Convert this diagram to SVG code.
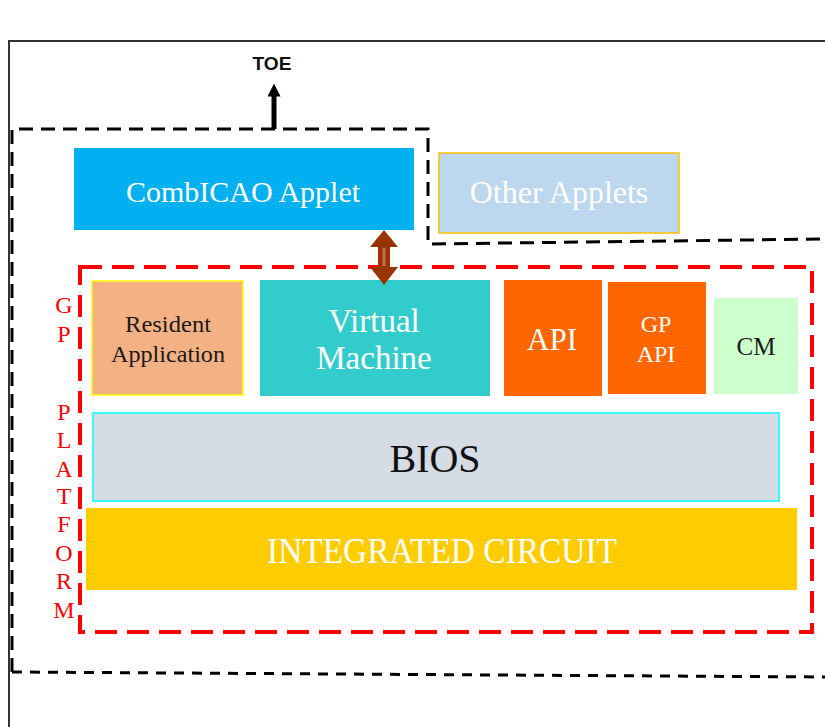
<svg xmlns="http://www.w3.org/2000/svg" width="825" height="727" viewBox="0 0 825 727">
<style>
.serif{font-family:"Liberation Serif","Times New Roman",serif;text-anchor:middle}
.w{fill:#ffffff}
.dk{fill:#1a1a1a}
.red{fill:#ff0000;font-size:24px}
</style>
<defs>
<marker id="ah" viewBox="0 0 10 10" refX="5" refY="5" markerWidth="2.6" markerHeight="2.6" orient="auto-start-reverse" markerUnits="strokeWidth">
<path d="M0,0 L10,5 L0,10 z" fill="#000"/>
</marker>
</defs>
<rect width="825" height="727" fill="#fff"/>
<g id="frame">
<path d="M9,727 L9,41 L825,41" fill="none" stroke="#333" stroke-width="2"/>
</g>
<g id="toe-boundary">
<path d="M12,672 L12,129 L428,129 L428,244 L825,239" fill="none" stroke="#000" stroke-width="3" stroke-dasharray="14,8"/>
<path d="M12,672 L825,677" fill="none" stroke="#000" stroke-width="3" stroke-dasharray="10,8"/>
</g>
<g id="gp-platform">
<rect x="80" y="267" width="732" height="365" fill="none" stroke="#ff0000" stroke-width="4" stroke-dasharray="22,10"/>
<g class="serif red">
<text x="64" y="313">G</text>
<text x="64" y="342">P</text>
<text x="64" y="420">P</text>
<text x="64" y="448">L</text>
<text x="64" y="477">A</text>
<text x="64" y="504">T</text>
<text x="64" y="532">F</text>
<text x="64" y="561">O</text>
<text x="64" y="589">R</text>
<text x="64" y="618">M</text>
</g>
</g>
<g id="toe-label">
<text x="272" y="70" font-family="Liberation Sans,Arial,sans-serif" font-weight="bold" font-size="18" text-anchor="middle" fill="#111" textLength="39" lengthAdjust="spacingAndGlyphs">TOE</text>
</g>
<g id="combicao">
<rect x="74" y="148" width="340" height="82" fill="#00b0f0"/>
<text x="243" y="202" class="serif w" font-size="30">CombICAO Applet</text>
</g>
<g id="other-applets">
<rect x="439" y="153" width="240" height="80" fill="#bdd7ee" stroke="#ffc000" stroke-width="1.5"/>
<text x="559" y="203" class="serif w" font-size="32">Other Applets</text>
</g>
<g id="resident">
<rect x="92" y="281" width="151" height="114" fill="#f4b183" stroke="#ffff00" stroke-width="1.5"/>
<text x="168" y="332" class="serif dk" font-size="23" textLength="86" lengthAdjust="spacingAndGlyphs">Resident</text>
<text x="168" y="362" class="serif dk" font-size="23" textLength="114" lengthAdjust="spacingAndGlyphs">Application</text>
</g>
<g id="vm">
<rect x="260" y="280" width="230" height="116" fill="#33cccc"/>
<text x="374" y="332" class="serif w" font-size="33">Virtual</text>
<text x="374" y="369" class="serif w" font-size="33">Machine</text>
</g>
<g id="api">
<rect x="504" y="280" width="98" height="116" fill="#ff6600"/>
<text x="552" y="350" class="serif w" font-size="31">API</text>
</g>
<g id="gp-api">
<rect x="608" y="282" width="98" height="112" fill="#ff6600"/>
<text x="656" y="332" class="serif w" font-size="24">GP</text>
<text x="656" y="362" class="serif w" font-size="24">API</text>
</g>
<g id="cm">
<rect x="714" y="298" width="84" height="96" fill="#ccffcc"/>
<text x="756" y="355" class="serif dk" font-size="25">CM</text>
</g>
<g id="bios">
<rect x="93" y="413" width="686" height="88" fill="#d6dce4" stroke="#00ffff" stroke-width="1.5"/>
<text x="435" y="472" class="serif" fill="#111" font-size="40">BIOS</text>
</g>
<g id="ic">
<rect x="86" y="508" width="711" height="82" fill="#ffcc00"/>
<text x="442" y="563" class="serif w" font-size="35" textLength="350" lengthAdjust="spacingAndGlyphs">INTEGRATED CIRCUIT</text>
</g>
<g id="connectors">
<line x1="274" y1="129" x2="274" y2="90" stroke="#000" stroke-width="5" marker-end="url(#ah)"/>
<path d="M384,230 L398,247 L390,247 L390,267 L398,267 L384,285 L370,267 L378,267 L378,247 L370,247 Z" fill="#993300"/>
<line x1="384" y1="248" x2="384" y2="266" stroke="#c07050" stroke-width="3"/>
</g>
</svg>
